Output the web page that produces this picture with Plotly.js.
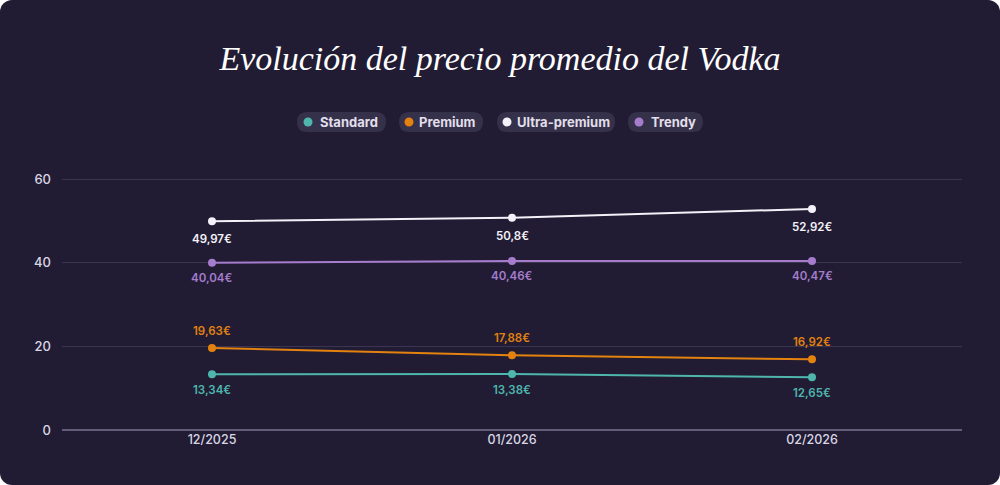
<!DOCTYPE html>
<html>
<head>
<meta charset="utf-8">
<script src="https://cdn.plot.ly/plotly-3.0.1.min.js"></script>
<style>
  html, body { margin: 0; padding: 0; background: #ffffff; }
  #chart { width: 1000px; height: 485px; border-radius: 12px; overflow: hidden; }
</style>
</head>
<body>
<div id="chart"></div>
<script>
// data
const months = ["12/2025", "01/2026", "02/2026"];
const standard = [13.34, 13.38, 12.65];
const premium = [19.63, 17.88, 16.92];
const ultraPremium = [49.97, 50.8, 52.92];
const trendy = [40.04, 40.46, 40.47];

const seriesNames = ["Standard", "Premium", "Ultra-premium", "Trendy"];
const seriesColors = ["#4fb6ad", "#e3820f", "#f4f1f8", "#a67ccd"];
const labelShift = [-16, 17, -18, -15]; // below / above the point

const BG = "#211c34";
const PILL = "#36314a";
const FONT = "Inter, 'Open Sans', sans-serif";

// plot area in pixels (for placing the legend pills)
const M = { l: 62, r: 38, t: 171, b: 55 };
const W = 1000, H = 485;
const pw = W - M.l - M.r, ph = H - M.t - M.b;
const px = x => (x - M.l) / pw;
const py = y => (H - M.b - y) / ph;

function euro(v) {
  return String(v).replace(".", ",") + "€";
}

function makeTrace(name, values, color) {
  return {
    x: months,
    y: values,
    name: name,
    type: "scatter",
    mode: "lines+markers",
    line: { color: color, width: 2 },
    marker: { color: color, size: 8 },
    cliponaxis: false,
    hoverinfo: "skip"
  };
}

const allSeries = [standard, premium, ultraPremium, trendy];
const traces = allSeries.map((s, i) => makeTrace(seriesNames[i], s, seriesColors[i]));

const shapes = [];
const annotations = [];

// value labels
allSeries.forEach((s, i) => {
  s.forEach((v, j) => {
    annotations.push({
      x: months[j], y: v, xref: "x", yref: "y",
      text: euro(v), showarrow: false,
      yshift: labelShift[i],
      font: { family: FONT, size: 11.5, color: seriesColors[i], weight: 600 }
    });
  });
});

// legend drawn as rounded pills (pixel boxes: left, right, dot x, text x)
const legendBoxes = [
  [297, 386, 308, 318],
  [399, 483, 409, 417],
  [497, 615, 507, 515],
  [628, 703, 639, 649]
];
const pillTop = 112, pillBot = 132, pillMid = 122;

function roundRect(x0, x1, y0, y1, r) {
  const X0 = px(x0), X1 = px(x1), Y0 = py(y0), Y1 = py(y1);
  const rx = r / pw, ry = r / ph;
  return "M " + (X0 + rx) + "," + Y0 +
    " L " + (X1 - rx) + "," + Y0 +
    " Q " + X1 + "," + Y0 + " " + X1 + "," + (Y0 - ry) +
    " L " + X1 + "," + (Y1 + ry) +
    " Q " + X1 + "," + Y1 + " " + (X1 - rx) + "," + Y1 +
    " L " + (X0 + rx) + "," + Y1 +
    " Q " + X0 + "," + Y1 + " " + X0 + "," + (Y1 + ry) +
    " L " + X0 + "," + (Y0 - ry) +
    " Q " + X0 + "," + Y0 + " " + (X0 + rx) + "," + Y0 + " Z";
}

legendBoxes.forEach((b, i) => {
  shapes.push({
    type: "path", xref: "paper", yref: "paper",
    path: roundRect(b[0], b[1], pillTop, pillBot, 10),
    fillcolor: PILL, line: { width: 0 }
  });
  shapes.push({
    type: "circle", xref: "paper", yref: "paper",
    x0: px(b[2] - 4.5), x1: px(b[2] + 4.5),
    y0: py(pillMid + 4.5), y1: py(pillMid - 4.5),
    fillcolor: seriesColors[i], line: { width: 0 }
  });
  annotations.push({
    xref: "paper", yref: "paper",
    x: px(b[3]), y: py(pillMid),
    xanchor: "left", yanchor: "middle",
    text: seriesNames[i], showarrow: false,
    font: { family: FONT, size: 13, color: "#e2dfea", weight: 700 }
  });
});

const layout = {
  width: W,
  height: H,
  paper_bgcolor: BG,
  plot_bgcolor: BG,
  margin: M,
  showlegend: false,
  title: {
    text: "<i>Evolución del precio promedio del Vodka</i>",
    font: { family: "'Liberation Serif', 'Times New Roman', serif", size: 34, color: "#ffffff" },
    x: 0.5, xanchor: "center",
    y: 1 - 58 / H, yanchor: "middle"
  },
  xaxis: {
    type: "category",
    range: [-0.5, 2.5],
    showgrid: false,
    zeroline: false,
    showline: false,
    ticks: "",
    tickfont: { family: FONT, size: 12.5, color: "#d9d6e3", weight: 500 }
  },
  yaxis: {
    range: [0, 62],
    tickvals: [0, 20, 40, 60],
    showgrid: true,
    gridcolor: "#3a3550",
    gridwidth: 1,
    zeroline: true,
    zerolinecolor: "#625d78",
    zerolinewidth: 1.5,
    showline: false,
    ticks: "",
    ticklabelstandoff: 10,
    tickfont: { family: FONT, size: 13, color: "#d9d6e3", weight: 500 }
  },
  shapes: shapes,
  annotations: annotations
};

Plotly.newPlot("chart", traces, layout, { displayModeBar: false, staticPlot: true });
</script>
</body>
</html>
